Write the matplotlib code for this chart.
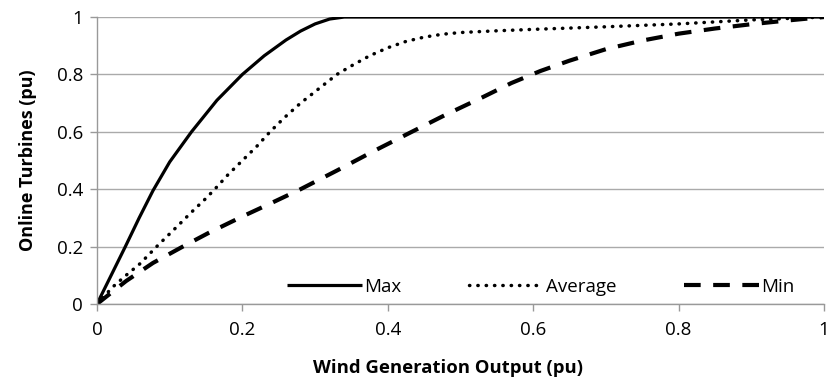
import numpy as np
import matplotlib
matplotlib.use("Agg")
import matplotlib.pyplot as plt

plt.rcParams['font.family'] = ['Open Sans', 'DejaVu Sans']

# curves (x = wind output pu, y = online turbines pu)
max_x = [0, 0.039, 0.058, 0.077, 0.1, 0.13, 0.165, 0.2, 0.23, 0.26, 0.28, 0.3, 0.32, 0.34,
         0.4, 0.6, 0.8, 1.0]
max_y = [0, 0.2, 0.3, 0.395, 0.495, 0.6, 0.71, 0.8, 0.865, 0.92, 0.951, 0.976, 0.993, 1.0,
         1.0, 1.0, 1.0, 1.0]

avg_x = [0, 0.022, 0.04, 0.059, 0.084, 0.111, 0.13, 0.149, 0.162, 0.18, 0.2, 0.22, 0.238,
         0.258, 0.28, 0.305, 0.33, 0.35, 0.375, 0.4, 0.425, 0.45, 0.475, 0.5, 0.55, 0.6,
         0.7, 0.8, 0.9, 1.0]
avg_y = [0, 0.06, 0.1, 0.14, 0.205, 0.272, 0.32, 0.366, 0.4, 0.45, 0.5, 0.55, 0.6,
         0.65, 0.7, 0.75, 0.8, 0.83, 0.865, 0.893, 0.915, 0.93, 0.94, 0.946, 0.952, 0.957,
         0.966, 0.976, 0.99, 1.0]

min_x = [0, 0.04, 0.077, 0.118, 0.153, 0.2, 0.24, 0.28, 0.33, 0.38, 0.433, 0.48, 0.53,
         0.57, 0.61, 0.65, 0.7, 0.75, 0.8, 0.85, 0.9, 0.95, 1.0]
min_y = [0, 0.08, 0.143, 0.2, 0.247, 0.305, 0.352, 0.4, 0.465, 0.532, 0.6, 0.66, 0.72,
         0.77, 0.812, 0.848, 0.888, 0.918, 0.942, 0.96, 0.975, 0.988, 1.0]

fig = plt.figure(figsize=(8.29, 3.87), dpi=100)
ax = fig.add_axes([0.117, 0.2145, 0.877, 0.7415])

ax.plot(max_x, max_y, color='black', lw=2.3, label='Max', solid_capstyle='butt')
ax.plot(avg_x, avg_y, color='black', lw=2.5, linestyle=(0, (0.1, 2.3)),
        dash_capstyle='round', label='Average')
ax.plot(min_x, min_y, color='black', lw=3.0, linestyle=(0, (4, 3)),
        dash_capstyle='butt', label='Min')

ax.set_xlim(0, 1)
ax.set_ylim(0, 1)
ax.set_xticks(np.arange(0, 1.01, 0.2))
ax.set_yticks(np.arange(0, 1.01, 0.2))
ax.set_xticklabels(['0', '0.2', '0.4', '0.6', '0.8', '1'])
ax.set_yticklabels(['0', '0.2', '0.4', '0.6', '0.8', '1'])
ax.tick_params(axis='both', labelsize=13.5, color='#999999', length=5, width=1)
ax.tick_params(axis='x', pad=7)
ax.tick_params(axis='y', pad=5)
ax.yaxis.grid(True, color='#aaaaaa', lw=1)
ax.set_axisbelow(True)
for s in ['top', 'right']:
    ax.spines[s].set_visible(False)
for s in ['left', 'bottom']:
    ax.spines[s].set_color('#999999')
    ax.spines[s].set_linewidth(1)

ax.set_xlabel('Wind Generation Output (pu)', fontsize=13.3, fontweight='bold')
ax.xaxis.set_label_coords(0.483, -0.19)
ax.set_ylabel('Online Turbines (pu)', fontsize=13, fontweight='bold', labelpad=14)

ax.legend(loc='lower right', bbox_to_anchor=(0.982, -0.03), ncol=3, frameon=False,
          fontsize=13.5, handlelength=4.0, columnspacing=3.6, handletextpad=0.1)

fig.savefig('out.png', dpi=100)
